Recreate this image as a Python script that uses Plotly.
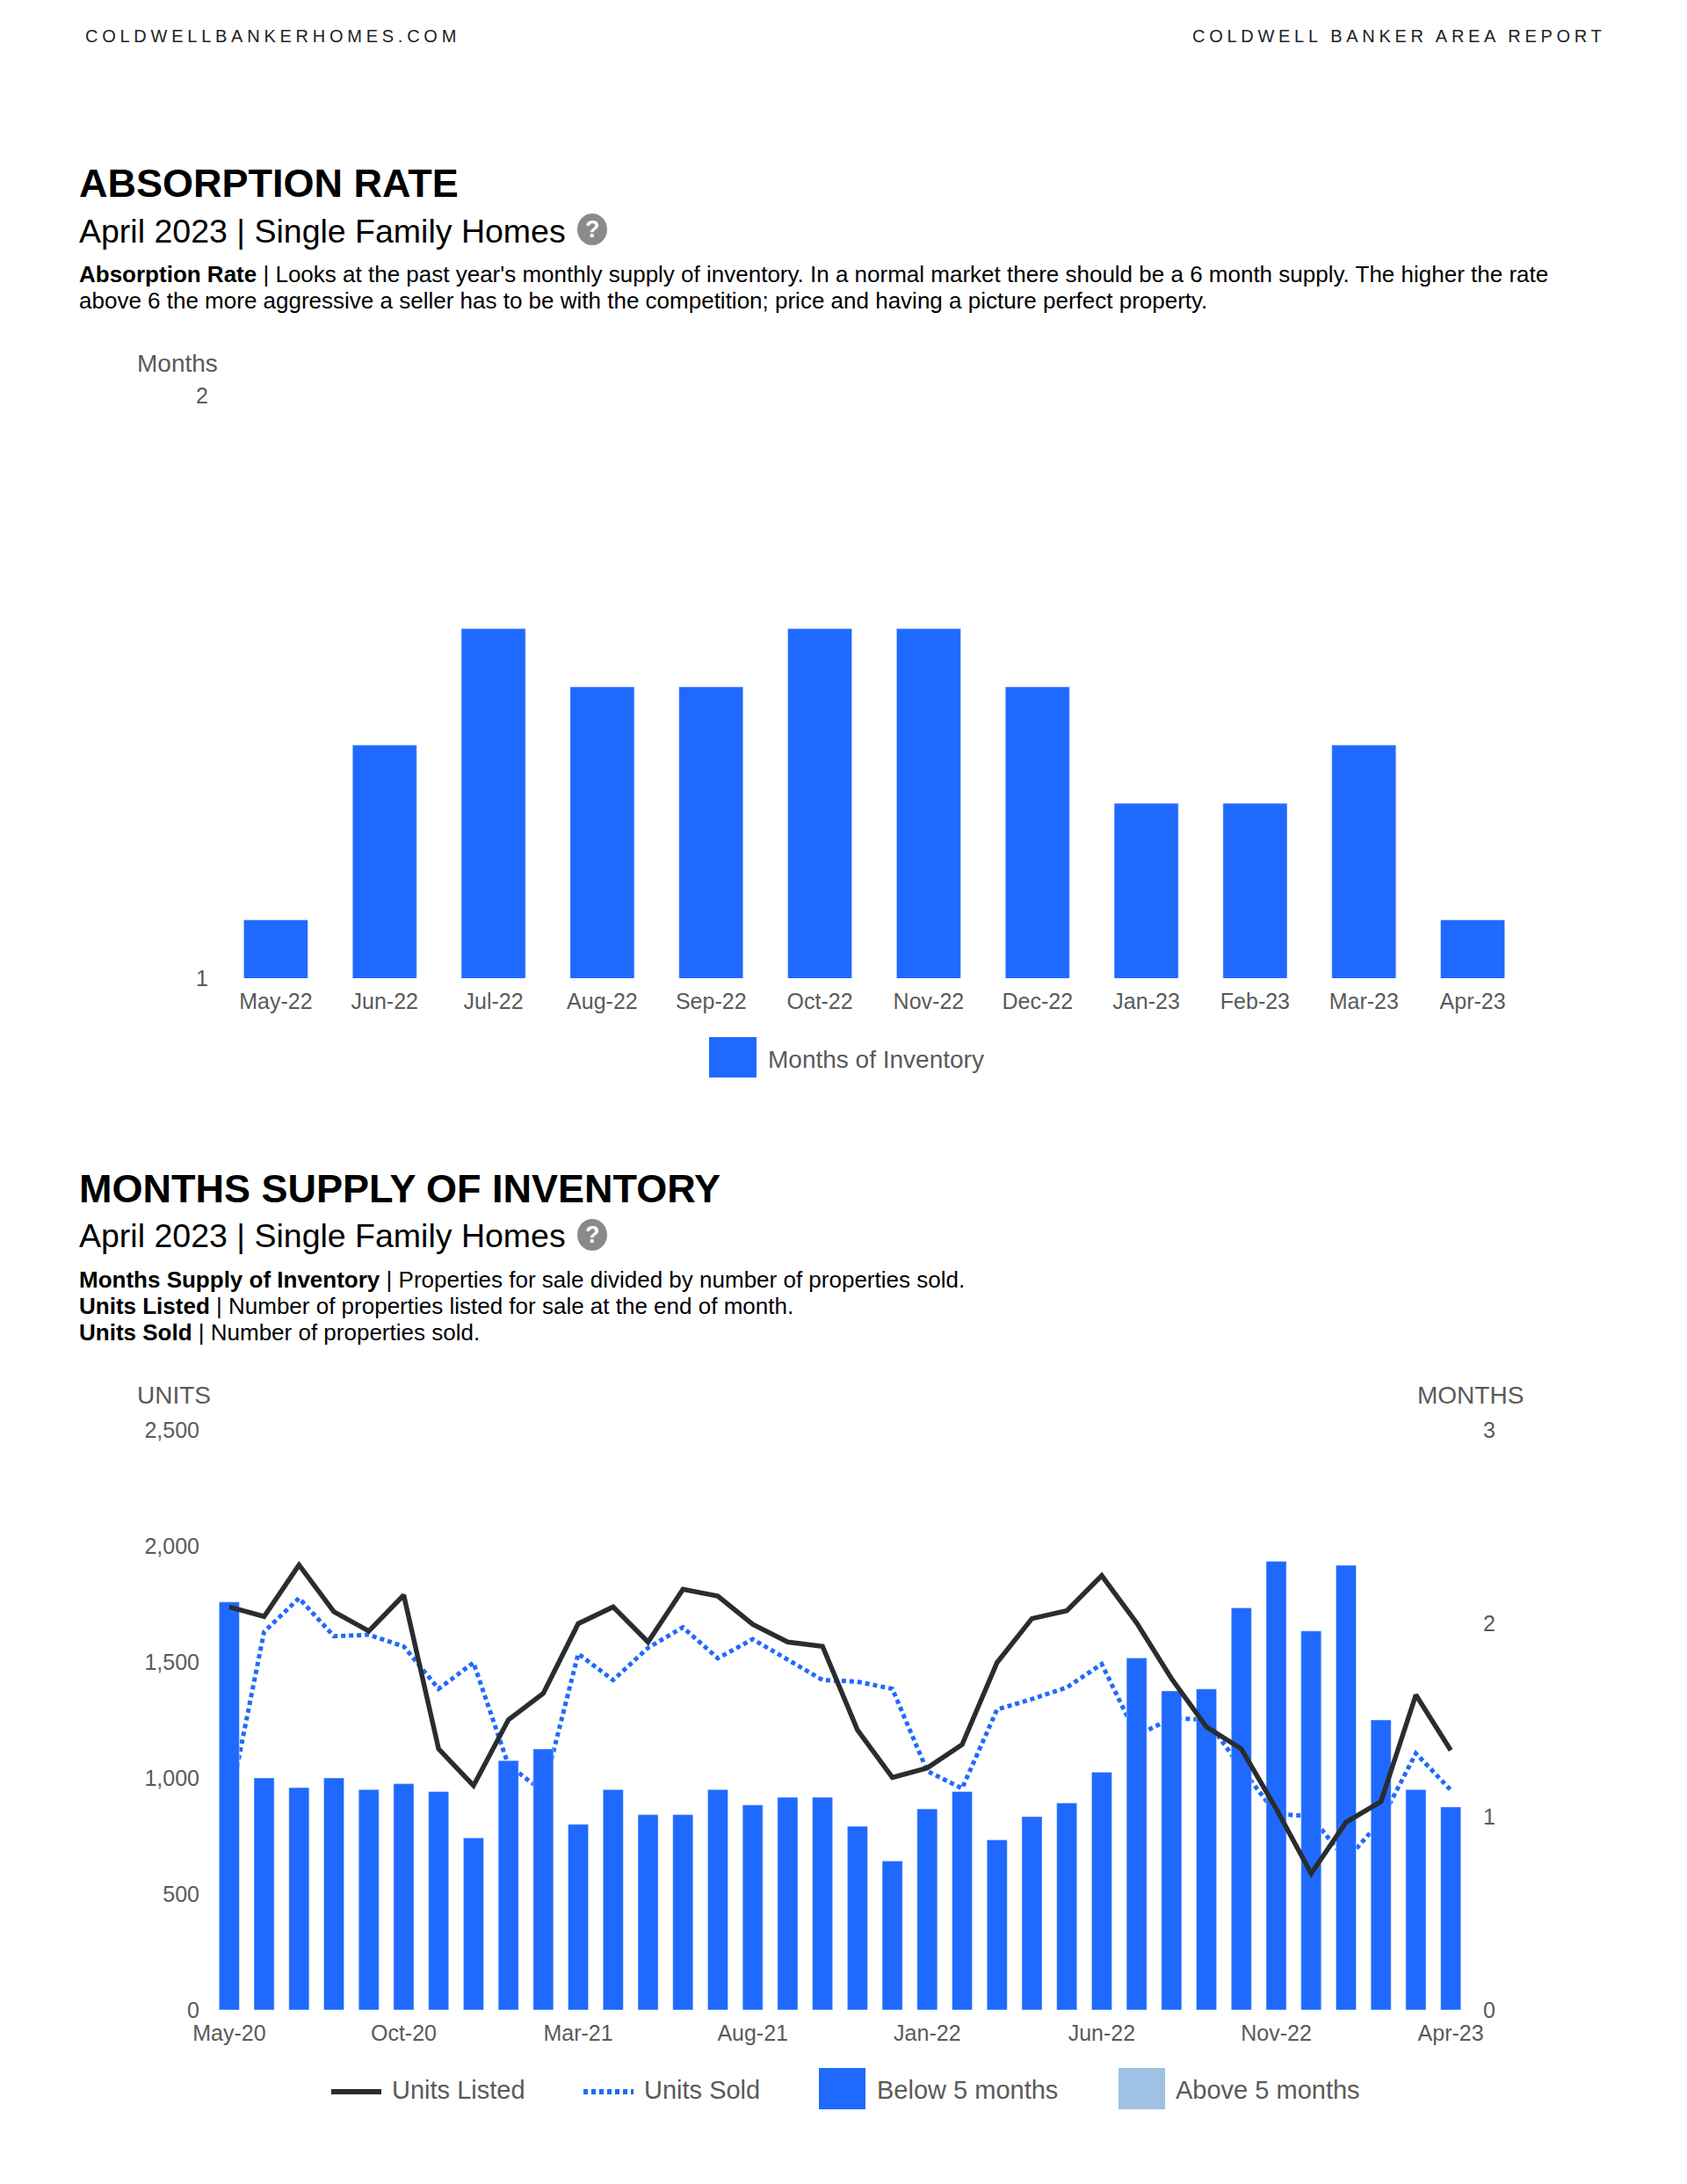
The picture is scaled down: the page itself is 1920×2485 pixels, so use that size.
import plotly.graph_objects as go

W, H = 1920, 2485
FONT = "Liberation Sans"
BLUE = "#1f69ff"
LIGHT = "#9fc2e4"
DARK = "#2a2d30"
GREY = "#5a5a5a"

# ---- data -------------------------------------------------------------
abs_months = ["May-22", "Jun-22", "Jul-22", "Aug-22", "Sep-22", "Oct-22",
              "Nov-22", "Dec-22", "Jan-23", "Feb-23", "Mar-23", "Apr-23"]
abs_values = [1.1, 1.4, 1.6, 1.5, 1.5, 1.6, 1.6, 1.5, 1.3, 1.3, 1.4, 1.1]

supply_months = ["May-20", "Jun-20", "Jul-20", "Aug-20", "Sep-20", "Oct-20",
                 "Nov-20", "Dec-20", "Jan-21", "Feb-21", "Mar-21", "Apr-21",
                 "May-21", "Jun-21", "Jul-21", "Aug-21", "Sep-21", "Oct-21",
                 "Nov-21", "Dec-21", "Jan-22", "Feb-22", "Mar-22", "Apr-22",
                 "May-22", "Jun-22", "Jul-22", "Aug-22", "Sep-22", "Oct-22",
                 "Nov-22", "Dec-22", "Jan-23", "Feb-23", "Mar-23", "Apr-23"]
supply_ticks = ["May-20", "Oct-20", "Mar-21", "Aug-21", "Jan-22", "Jun-22", "Nov-22", "Apr-23"]
months_supply = [2.11, 1.2, 1.15, 1.2, 1.14, 1.17, 1.13, 0.89, 1.29, 1.35, 0.96, 1.14,
                 1.01, 1.01, 1.14, 1.06, 1.1, 1.1, 0.95, 0.77, 1.04, 1.13, 0.88, 1.0,
                 1.07, 1.23, 1.82, 1.65, 1.66, 2.08, 2.32, 1.96, 2.3, 1.5, 1.14, 1.05]
units_listed = [1737, 1696, 1918, 1716, 1633, 1788, 1125, 967, 1251, 1365, 1665, 1737,
                1586, 1813, 1784, 1662, 1586, 1567, 1207, 1002, 1043, 1144, 1497, 1687,
                1721, 1872, 1668, 1428, 1220, 1125, 867, 588, 809, 898, 1358, 1119]
units_sold = [880, 1630, 1775, 1611, 1617, 1567, 1384, 1497, 1055, 942, 1535, 1422,
              1561, 1649, 1516, 1598, 1510, 1422, 1415, 1384, 1030, 955, 1295, 1340,
              1390, 1491, 1182, 1258, 1251, 1042, 845, 835, 645, 816, 1106, 948]

y1_ticks = [1, 2]
units_ticks = [0, 500, 1000, 1500, 2000, 2500]
months_ticks = [0, 1, 2, 3]


def px(x):
    return x / W


def py(y):
    return 1 - y / H


fig = go.Figure()

# ---- chart 1 ----------------------------------------------------------
fig.add_bar(x=abs_months, y=abs_values, name="Months of Inventory", marker_color=BLUE,
            xaxis="x", yaxis="y", showlegend=False)

# ---- chart 2: sold line beneath bars, listed line above ---------------
fig.add_scatter(x=supply_months, y=units_sold, name="Units Sold", mode="lines",
                line=dict(color=BLUE, width=5, dash="5px,4px"),
                xaxis="x2", yaxis="y2", showlegend=False)
fig.add_bar(x=supply_months, y=months_supply, name="Below 5 months", marker_color=BLUE,
            xaxis="x2", yaxis="y3", showlegend=False)
fig.add_scatter(x=supply_months, y=units_listed, name="Units Listed", mode="lines",
                line=dict(color=DARK, width=5.5),
                xaxis="x2", yaxis="y4", showlegend=False)

tickfont = dict(family=FONT, size=25, color=GREY)
common = dict(showgrid=False, zeroline=False, showline=False, ticks="", tickfont=tickfont)

fig.update_layout(
    width=W, height=H, autosize=False,
    margin=dict(l=0, r=0, t=0, b=0, pad=0, autoexpand=False),
    paper_bgcolor="white", plot_bgcolor="white",
    barmode="overlay",
    font=dict(family=FONT, color=GREY),
    xaxis=dict(domain=[px(252), px(1738)], range=[-0.5, 11.5], type="category",
               anchor="y", ticklabelstandoff=9, categoryorder="array",
               categoryarray=abs_months, **common),
    yaxis=dict(domain=[py(1113), py(450)], range=[1, 2], tickvals=y1_ticks,
               anchor="x", ticklabelstandoff=14, **common),
    xaxis2=dict(domain=[px(241), px(1671)], range=[-0.5, 35.5], type="category",
                anchor="y2", tickvals=supply_ticks, ticklabelstandoff=9,
                categoryorder="array", categoryarray=supply_months, **common),
    yaxis2=dict(domain=[py(2287), py(1627)], range=[0, 2500], tickvals=units_ticks,
                tickformat=",d", anchor="x2", ticklabelstandoff=13, **common),
    yaxis3=dict(domain=[py(2287), py(1627)], range=[0, 3], tickvals=months_ticks,
                overlaying="y2", side="right", anchor="x2", ticklabelstandoff=16, **common),
    yaxis4=dict(domain=[py(2287), py(1627)], range=[0, 2500], overlaying="y2",
                anchor="x2", showticklabels=False, showgrid=False, zeroline=False),
)
fig.data[0].width = 0.59
fig.data[2].width = 0.58

shapes = []
ann = []


def text(x, y, s, size, color="#000000", anchor="left"):
    ann.append(dict(text=s, x=px(x), y=py(y), xref="paper", yref="paper",
                    xanchor=anchor, yanchor="middle", align=anchor, showarrow=False,
                    font=dict(family=FONT, size=size, color=color)))


def rect(x0, y0, x1, y1, color):
    shapes.append(dict(type="rect", xref="paper", yref="paper", x0=px(x0), x1=px(x1),
                       y0=py(y1), y1=py(y0), fillcolor=color, line_width=0))


def help_icon(cx, cy):
    shapes.append(dict(type="circle", xref="paper", yref="paper", x0=px(cx - 17), x1=px(cx + 17),
                       y0=py(cy + 18), y1=py(cy - 18), fillcolor="#8a8a8a", line_width=0))
    text(cx, cy, "<b>?</b>", 27, "#ffffff", "center")


# page header
text(94.5, 41, "COLDWELLBANKERHOMES.COM", 20, "#222222")
text(1829, 41, "COLDWELL BANKER AREA REPORT", 20, "#222222", "right")

# section 1
text(87.5, 208, "<b>ABSORPTION RATE</b>", 45)
text(87.5, 263, "April 2023 | Single Family Homes", 37.5)
help_icon(674, 261)
text(87.5, 312, "<b>Absorption Rate</b> | Looks at the past year's monthly supply of inventory. "
                "In a normal market there should be a 6 month supply. The higher the rate", 26)
text(87.5, 342, "above 6 the more aggressive a seller has to be with the competition; "
                "price and having a picture perfect property.", 26)
text(153.5, 414, "Months", 28, GREY)
rect(807, 1180, 861, 1226, BLUE)
text(871.5, 1205, "Months of Inventory", 28, GREY)

# section 2
text(87.5, 1352, "<b>MONTHS SUPPLY OF INVENTORY</b>", 45)
text(87.5, 1406, "April 2023 | Single Family Homes", 37.5)
help_icon(674, 1405)
text(87.5, 1456, "<b>Months Supply of Inventory</b> | Properties for sale divided by number of properties sold.", 26)
text(87.5, 1486, "<b>Units Listed</b> | Number of properties listed for sale at the end of month.", 26)
text(87.5, 1516, "<b>Units Sold</b> | Number of properties sold.", 26)
text(153.5, 1587, "UNITS", 28, GREY)
text(1610.5, 1587, "MONTHS", 28, GREY)

# legend of chart 2
shapes.append(dict(type="line", xref="paper", yref="paper", x0=px(377), x1=px(434),
                   y0=py(2380), y1=py(2380), line=dict(color=DARK, width=6)))
text(443.5, 2378, "Units Listed", 29, GREY)
shapes.append(dict(type="line", xref="paper", yref="paper", x0=px(664), x1=px(721),
                   y0=py(2380), y1=py(2380), line=dict(color=BLUE, width=6, dash="5px,4px")))
text(730.5, 2378, "Units Sold", 29, GREY)
rect(932, 2353, 985, 2400, BLUE)
text(995.5, 2378, "Below 5 months", 29, GREY)
rect(1273, 2353, 1326, 2400, LIGHT)
text(1335.5, 2378, "Above 5 months", 29, GREY)

fig.update_layout(shapes=shapes, annotations=ann)

post = """
document.body.style.margin = '0';
document.querySelectorAll('.annotation-text').forEach(function (t) {
  var s = t.textContent;
  if (s === 'COLDWELLBANKERHOMES.COM') { t.style.letterSpacing = '4.75px'; }
  if (s === 'COLDWELL BANKER AREA REPORT') { t.style.letterSpacing = '4.7px'; }
});
"""
fig.write_html("out.html", post_script=post, config=dict(displayModeBar=False))
